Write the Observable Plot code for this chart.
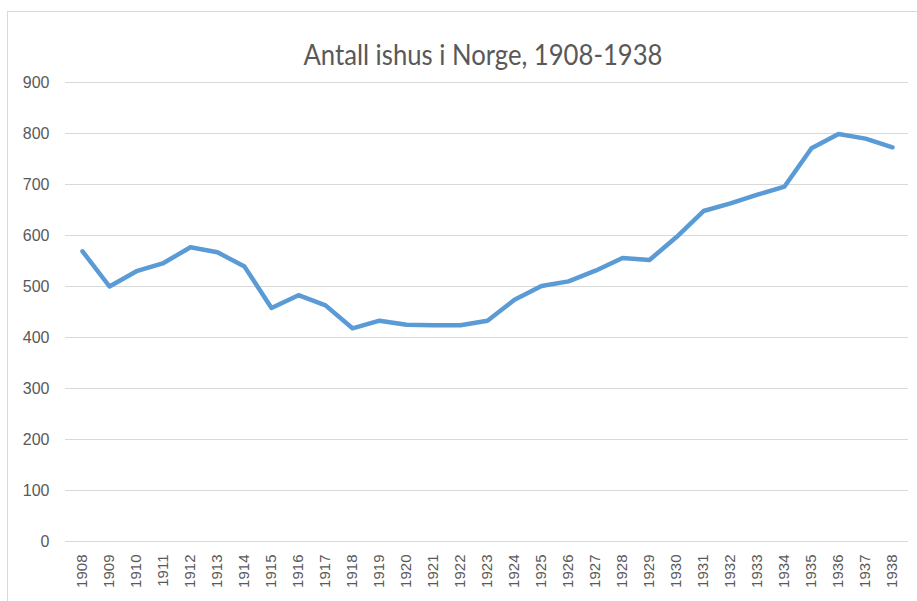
<!DOCTYPE html>
<html>
<head>
<meta charset="utf-8">
<script src="https://cdn.jsdelivr.net/npm/d3@7"></script>
<script src="https://cdn.jsdelivr.net/npm/@observablehq/plot@0.6"></script>
<style>
  html, body { margin: 0; padding: 0; background: #fff; }
  #wrap { position: relative; width: 917px; height: 601px; overflow: hidden; background: #fff; }
  #frame { position: absolute; left: 7px; top: 11px; width: 1000px; height: 1000px; border: 1px solid #d9d9d9; box-sizing: border-box; }
  #title { position: relative; height: 70px; }
  #title span { position: absolute; left: 482.5px; top: 38.4px; font-family: Lato, "Open Sans", sans-serif; font-size: 28px; line-height: 1.2; color: #595959; white-space: nowrap; transform-origin: center; }
  #chart { position: relative; }
  #chart svg { display: block; }
</style>
</head>
<body>
<div id="wrap">
  <div id="frame"></div>
  <div id="title"><span id="titleText">Antall ishus i Norge, 1908-1938</span></div>
  <div id="chart"></div>
</div>
<script>
const years = [1908,1909,1910,1911,1912,1913,1914,1915,1916,1917,1918,1919,1920,1921,1922,1923,1924,1925,1926,1927,1928,1929,1930,1931,1932,1933,1934,1935,1936,1937,1938];
const icehouses = [569,500,530,546,577,567,539,458,483,463,418,433,425,424,424,433,474,501,510,531,556,552,597,648,663,680,696,771,799,790,773];
const yTicks = [0,100,200,300,400,500,600,700,800,900];

const data = years.map((y, i) => ({year: y, value: icehouses[i]}));

const chart = Plot.plot({
  width: 917,
  height: 531,
  marginTop: 12,
  marginBottom: 60,
  marginLeft: 65,
  marginRight: 9,
  style: { fontFamily: "'Liberation Sans', Arial, sans-serif", color: "#595959", background: "transparent", overflow: "visible" },
  x: { type: "point", domain: years, padding: 0.5 },
  y: { domain: [0, 900] },
  marks: [
    Plot.gridY(yTicks, { stroke: "#d9d9d9", strokeOpacity: 1, strokeWidth: 1 }),
    Plot.axisY(yTicks, { tickSize: 0, tickPadding: 16, fontSize: 16, label: null, fill: "#595959" }),
    Plot.axisX({ tickSize: 0, tickRotate: -90, tickPadding: 13, fontSize: 15, label: null, tickFormat: d => String(d), fill: "#595959" }),
    Plot.lineY(data, { x: "year", y: "value", stroke: "#5b9bd5", strokeWidth: 4.5, strokeLinejoin: "round", strokeLinecap: "round" })
  ]
});
document.getElementById("chart").appendChild(chart);

function fitTitle() {
  const s = document.getElementById("titleText");
  s.style.transform = "translateX(-50%)";
  const w = s.getBoundingClientRect().width;
  const k = 359 / w;
  s.style.transform = "translateX(-50%) scaleX(" + k + ")";
}
fitTitle();
if (document.fonts && document.fonts.ready) document.fonts.ready.then(fitTitle);
</script>
</body>
</html>
